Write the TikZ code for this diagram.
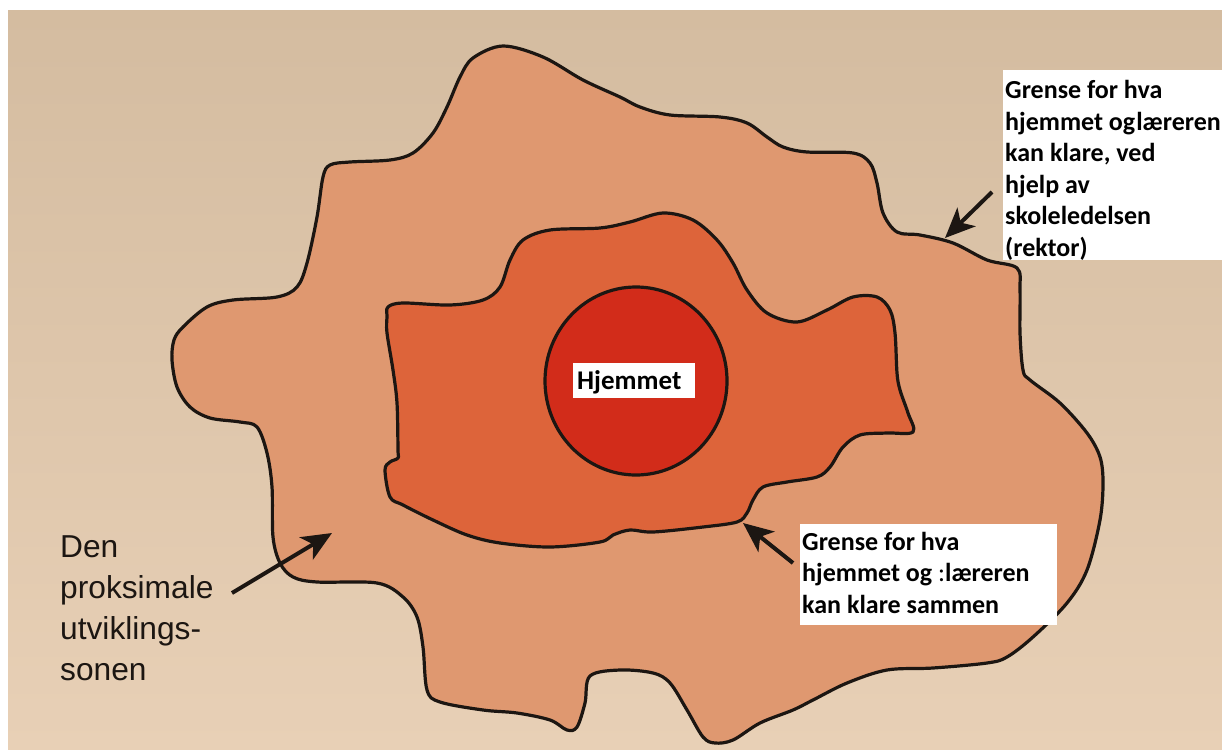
\documentclass[tikz,border=0pt]{standalone}
\usepackage{fontspec}
\newfontfamily\calibfont{Carlito}
\newfontfamily\arialfont{Liberation Sans}
\usetikzlibrary{arrows.meta}
\definecolor{bgtop}{RGB}{212,188,160}
\definecolor{bgbot}{RGB}{232,208,182}
\definecolor{outerc}{RGB}{223,152,112}
\definecolor{innerc}{RGB}{221,100,58}
\definecolor{corec}{RGB}{210,44,26}
\definecolor{ink}{RGB}{28,22,18}
\tikzset{
  blob/.style={draw=ink, line width=3.2pt, line join=round},
  whitebox/.style={fill=white, draw=none, inner sep=0pt, anchor=north west},
  boldlabel/.style={inner sep=0pt, anchor=north west, align=left, text=black,
    font=\calibfont\bfseries\fontsize{26}{31.5}\selectfont},
  booklabel/.style={inner sep=0pt, anchor=north west, align=left, text=ink,
    font=\arialfont\fontsize{31.7}{41.3}\selectfont},
  pointer/.style={draw=ink, line width=4pt, -{Stealth[length=30pt,width=26pt,inset=8pt]}}
}
\begin{document}
\begin{tikzpicture}[x=1pt,y=-1pt]
\useasboundingbox (0,0) rectangle (1222,749);
\fill[white] (0,0) rectangle (1222,749);
\shade[top color=bgtop, bottom color=bgbot] (8,11) rectangle (1222,749);

% outer zone
\draw[blob, fill=outerc] plot[smooth cycle, tension=0.55] coordinates {
(503,46) (543,57) (583,80) (620,97) (640,107) (670,115) (720,117) (747,123) (767,137)
(783,147) (807,152) (853,153) (870,163) (877,183) (883,213) (897,232) (920,235)
(953,243) (987,260) (1017,268) (1020,290) (1020,333) (1023,370) (1030,380) (1060,403)
(1087,433) (1100,457) (1103,483) (1100,520) (1087,570) (1067,603) (1033,637) (1007,657)
(987,663) (933,668) (887,670) (847,683) (813,700) (793,710) (760,723) (733,740)
(715,743) (703,737) (687,710) (670,683) (653,673) (620,670) (590,676) (585,703)
(577,727) (567,730) (550,720) (517,713) (483,710) (440,702) (427,690) (423,647)
(417,617) (403,597) (377,583) (317,582) (293,577) (280,563) (273,537) (272,487)
(267,453) (257,427) (240,422) (210,418) (190,407) (177,387) (172,360) (174,340)
(183,327) (207,307) (233,300) (277,297) (297,287) (307,263) (317,217) (323,177)
(330,165) (350,162) (390,160) (413,153) (433,133) (447,107) (460,77) (473,58)};

% inner zone
\draw[blob, fill=innerc] plot[smooth cycle, tension=0.55] coordinates {
(388,307) (403,303) (450,305) (483,300) (500,287) (510,260) (523,240) (550,230)
(600,228) (630,222) (663,213) (693,220) (717,240) (733,263) (747,290) (767,313)
(797,322) (827,310) (853,297) (877,297) (890,310) (895,333) (897,373) (900,390)
(908,413) (913,432) (887,433) (860,435) (843,447) (830,467) (817,477) (787,482)
(763,487) (753,500) (747,513) (737,522) (703,527) (653,532) (630,530) (613,535)
(600,542) (550,547) (500,543) (467,535) (433,520) (403,505) (390,497) (385,470)
(390,462) (398,458) (398,450) (397,403) (393,370) (387,333) (387,317)};

% core
\draw[blob, fill=corec] (636,381) ellipse [x radius=91, y radius=94];

% labels
\node[whitebox, minimum width=122pt, minimum height=35pt] (homebox) at (573,363) {};
\node[inner sep=0pt, anchor=base west, text=black,
  font=\calibfont\bfseries\fontsize{27}{32}\selectfont] (home) at (577,389.5) {Hjemmet};

\node[whitebox, minimum width=219pt, minimum height=190pt] (topbox) at (1003,70) {};
\node[boldlabel] (toplabel) at (1005,80.5) {Grense for hva\\hjemmet og\kern1pt\relax læreren\\kan klare, ved\\hjelp av\\skoleledelsen\\(rektor)};

\node[whitebox, minimum width=257pt, minimum height=101pt] (botbox) at (800,524) {};
\node[boldlabel] (botlabel) at (802,532) {Grense for hva\\hjemmet og {\mdseries:}læreren\\kan klare sammen};

\node[booklabel] (zpd) at (60,535) {Den\\proksimale\\utviklings-\\sonen};

% arrows
\coordinate (a1s) at (992,192); \coordinate (a1e) at (945,238);
\coordinate (a2s) at (793,563); \coordinate (a2e) at (743,523);
\coordinate (a3s) at (232,593); \coordinate (a3e) at (332,533);
\draw[pointer] (a1s) -- (a1e);
\draw[pointer] (a2s) -- (a2e);
\draw[pointer] (a3s) -- (a3e);
\end{tikzpicture}
\end{document}
